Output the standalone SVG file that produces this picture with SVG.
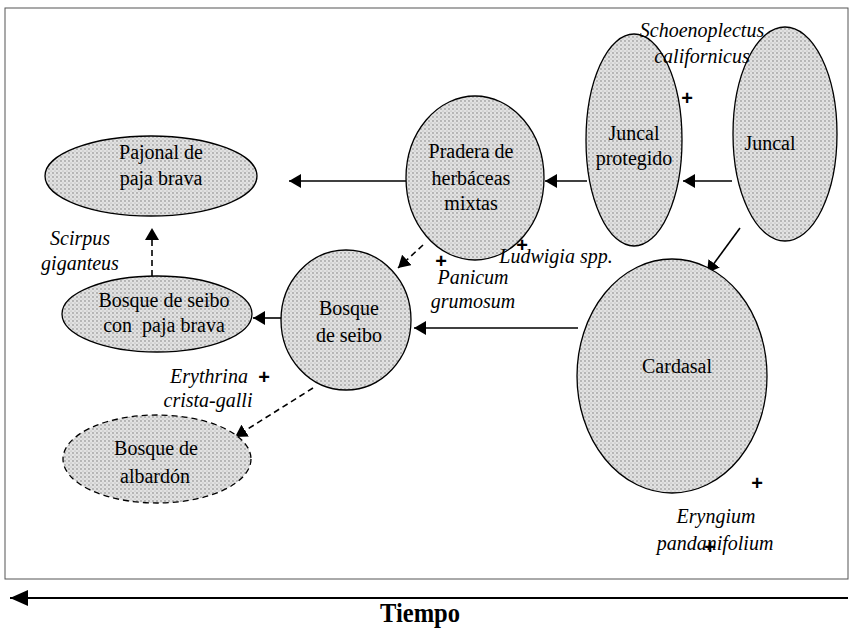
<svg xmlns="http://www.w3.org/2000/svg" width="850" height="628" viewBox="0 0 850 628">
<defs>
<pattern id="stip" width="4" height="4" patternUnits="userSpaceOnUse">
<rect width="4" height="4" fill="#e2e2e2"/>
<circle cx="1" cy="1" r="0.65" fill="#666"/>
<circle cx="3" cy="3" r="0.5" fill="#999"/>
</pattern>
<marker id="ah" markerWidth="14" markerHeight="14" refX="12" refY="7" orient="auto" markerUnits="userSpaceOnUse">
<path d="M0,0 L12,7 L0,14 Z" fill="#000"/>
</marker>
<marker id="ahbig" markerWidth="20" markerHeight="16" refX="18" refY="8" orient="auto" markerUnits="userSpaceOnUse">
<path d="M0,0 L18,8 L0,16 Z" fill="#000"/>
</marker>
</defs>
<style>
.node{fill:url(#stip);stroke:#000;stroke-width:1.3}
.dashed{stroke-dasharray:6 4}
.ar{stroke:#000;stroke-width:1.6;fill:none;marker-end:url(#ah)}
.dar{stroke:#000;stroke-width:1.6;fill:none;stroke-dasharray:6 4;marker-end:url(#ah)}
</style>
<rect x="5" y="8" width="843" height="571" fill="none" stroke="#555" stroke-width="1"/>

<g id="connectors">
<line class="ar" x1="406" y1="181" x2="289" y2="181"/>
<line class="ar" x1="587" y1="181" x2="545" y2="181"/>
<line class="ar" x1="732" y1="181" x2="683" y2="181"/>
<line class="ar" x1="740" y1="228" x2="707" y2="273"/>
<line class="ar" x1="578" y1="328" x2="414" y2="328"/>
<line class="ar" x1="282" y1="318" x2="253" y2="318"/>
<line class="dar" x1="152" y1="276" x2="152" y2="228"/>
<line class="dar" x1="423" y1="245" x2="398" y2="268"/>
<line class="dar" x1="313" y1="388" x2="235" y2="437"/>
<line x1="848" y1="598" x2="10" y2="598" stroke="#000" stroke-width="2" marker-end="url(#ahbig)"/>
</g>

<g font-family="Liberation Serif, Times New Roman, serif" font-size="20" text-anchor="middle" fill="#000">
<g id="pajonal">
<ellipse class="node" cx="151" cy="176" rx="106" ry="40"/>
<text x="161" y="159">Pajonal de</text>
<text x="161" y="185">paja brava</text>
</g>
<g id="pradera">
<ellipse class="node" cx="475" cy="178" rx="69" ry="82"/>
<text x="471" y="158">Pradera de</text>
<text x="471" y="185">herbáceas</text>
<text x="471" y="210">mixtas</text>
</g>
<g id="juncal-protegido">
<ellipse class="node" cx="634" cy="140" rx="48" ry="106"/>
<text x="634" y="140">Juncal</text>
<text x="634" y="165">protegido</text>
</g>
<g id="juncal">
<ellipse class="node" cx="785" cy="134" rx="52" ry="107"/>
<text x="770" y="150">Juncal</text>
</g>
<g id="cardasal">
<ellipse class="node" cx="672" cy="376" rx="95" ry="117"/>
<text x="677" y="373">Cardasal</text>
</g>
<g id="bosque-seibo">
<ellipse class="node" cx="346" cy="320" rx="65" ry="70"/>
<text x="349" y="315">Bosque</text>
<text x="349" y="342">de seibo</text>
</g>
<g id="bosque-seibo-paja">
<ellipse class="node" cx="157" cy="314" rx="95" ry="38"/>
<text x="164" y="307">Bosque de seibo</text>
<text x="164" y="332" xml:space="preserve">con  paja brava</text>
</g>
<g id="bosque-albardon">
<ellipse class="node dashed" cx="157" cy="459" rx="94" ry="44"/>
<text x="156" y="455">Bosque de</text>
<text x="155" y="483">albardón</text>
</g>

<g id="labels">
<g font-style="italic">
<text x="702" y="37">Schoenoplectus</text>
<text x="702" y="63">californicus</text>
<text x="556" y="263">Ludwigia spp.</text>
<text x="473" y="284">Panicum</text>
<text x="473" y="308">grumosum</text>
<text x="80" y="245">Scirpus</text>
<text x="80" y="270">giganteus</text>
<text x="209" y="383">Erythrina</text>
<text x="208" y="407">crista-galli</text>
<text x="716" y="523">Eryngium</text>
<text x="715" y="550">pandanifolium</text>
</g>
<g font-family="Liberation Sans, Arial, sans-serif" font-size="20" font-weight="bold">
<text x="687" y="105">+</text>
<text x="522" y="252">+</text>
<text x="441" y="268">+</text>
<text x="264" y="384">+</text>
<text x="757" y="490">+</text>
<text x="710" y="554">+</text>
</g>
<text x="420" y="622" font-size="27" font-weight="bold" textLength="80" lengthAdjust="spacingAndGlyphs">Tiempo</text>
</g>
</g>
</svg>
